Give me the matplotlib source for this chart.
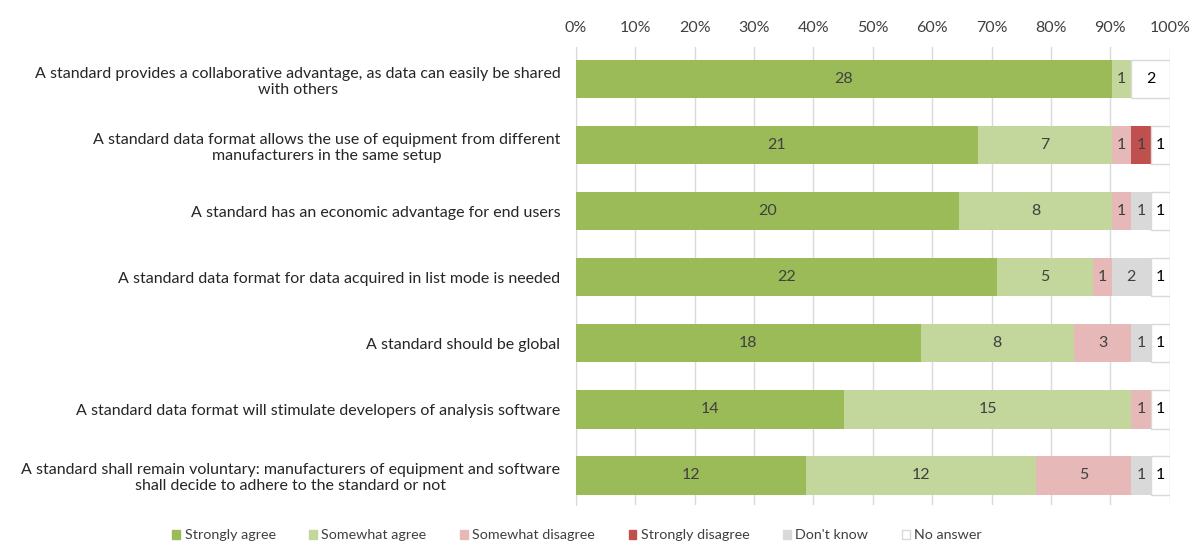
import numpy as np
import matplotlib.pyplot as plt
from matplotlib.patches import Patch

statements = [
    "A standard provides a collaborative advantage, as data can easily be shared\nwith others",
    "A standard data format allows the use of equipment from different\nmanufacturers in the same setup",
    "A standard has an economic advantage for end users",
    "A standard data format for data acquired in list mode is needed",
    "A standard should be global",
    "A standard data format will stimulate developers of analysis software",
    "A standard shall remain voluntary: manufacturers of equipment and software\nshall decide to adhere to the standard or not",
]

categories = ["Strongly agree", "Somewhat agree", "Somewhat disagree",
              "Strongly disagree", "Don't know", "No answer"]

strongly_agree = [28, 21, 20, 22, 18, 14, 12]
somewhat_agree = [1, 7, 8, 5, 8, 15, 12]
somewhat_disagree = [0, 1, 1, 1, 3, 1, 5]
strongly_disagree = [0, 1, 0, 0, 0, 0, 0]
dont_know = [0, 0, 1, 2, 1, 0, 1]
no_answer = [2, 1, 1, 1, 1, 1, 1]

colors = ["#9BBB59", "#C3D69B", "#E6B9B8", "#C0504D", "#D9D9D9", "#FFFFFF"]

plt.rcParams["font.family"] = ["Lato", "DejaVu Sans"]

counts = np.array([strongly_agree, somewhat_agree, somewhat_disagree,
                   strongly_disagree, dont_know, no_answer], dtype=float)
totals = counts.sum(axis=0)
shares = counts / totals * 100

fig = plt.figure(figsize=(11.97, 5.42), dpi=100)
ax = fig.add_axes([0.481, 0.068, 0.4962, 0.845])

y = np.arange(len(statements))
left = np.zeros(len(statements))
for i, cat in enumerate(categories):
    edge = "#D9D9D9" if cat == "No answer" else "none"
    ax.barh(y, shares[i], left=left, height=0.58, color=colors[i],
            edgecolor=edge, linewidth=1.0, label=cat, zorder=3)
    for j in range(len(statements)):
        if counts[i, j] > 0:
            ax.text(left[j] + shares[i, j] / 2, y[j], f"{int(counts[i, j])}",
                    ha="center", va="center", fontsize=11.5,
                    color="#000000" if cat == "No answer" else "#404040", zorder=4)
    left += shares[i]

ax.set_xlim(0, 100)
ax.set_ylim(6.45, -0.485)
ax.set_xticks(np.arange(0, 101, 10))
ax.set_xticklabels([f"{t}%" for t in range(0, 101, 10)])
ax.xaxis.tick_top()
ax.tick_params(axis="x", length=0, pad=9, labelsize=11.5, labelcolor="#404040")
ax.set_yticks(y)
ax.set_yticklabels(statements, fontsize=11.5, color="#262626", multialignment="center")
ax.tick_params(axis="y", length=0, pad=11)
ax.grid(axis="x", color="#D9D9D9", linewidth=1, zorder=0)
for s in ["top", "right", "bottom"]:
    ax.spines[s].set_visible(False)
ax.spines["left"].set_color("#D9D9D9")

handles = [Patch(facecolor=c, edgecolor="#D9D9D9" if c == "#FFFFFF" else c, label=l)
           for c, l in zip(colors, categories)]
fig.legend(handles=handles, loc="center", bbox_to_anchor=(0.482, 0.012), ncol=6,
           frameon=False, fontsize=10.3, handlelength=0.55, handleheight=0.55,
           handletextpad=0.3, columnspacing=2.35, labelcolor="#404040")

fig.savefig("out.png", dpi=100)
